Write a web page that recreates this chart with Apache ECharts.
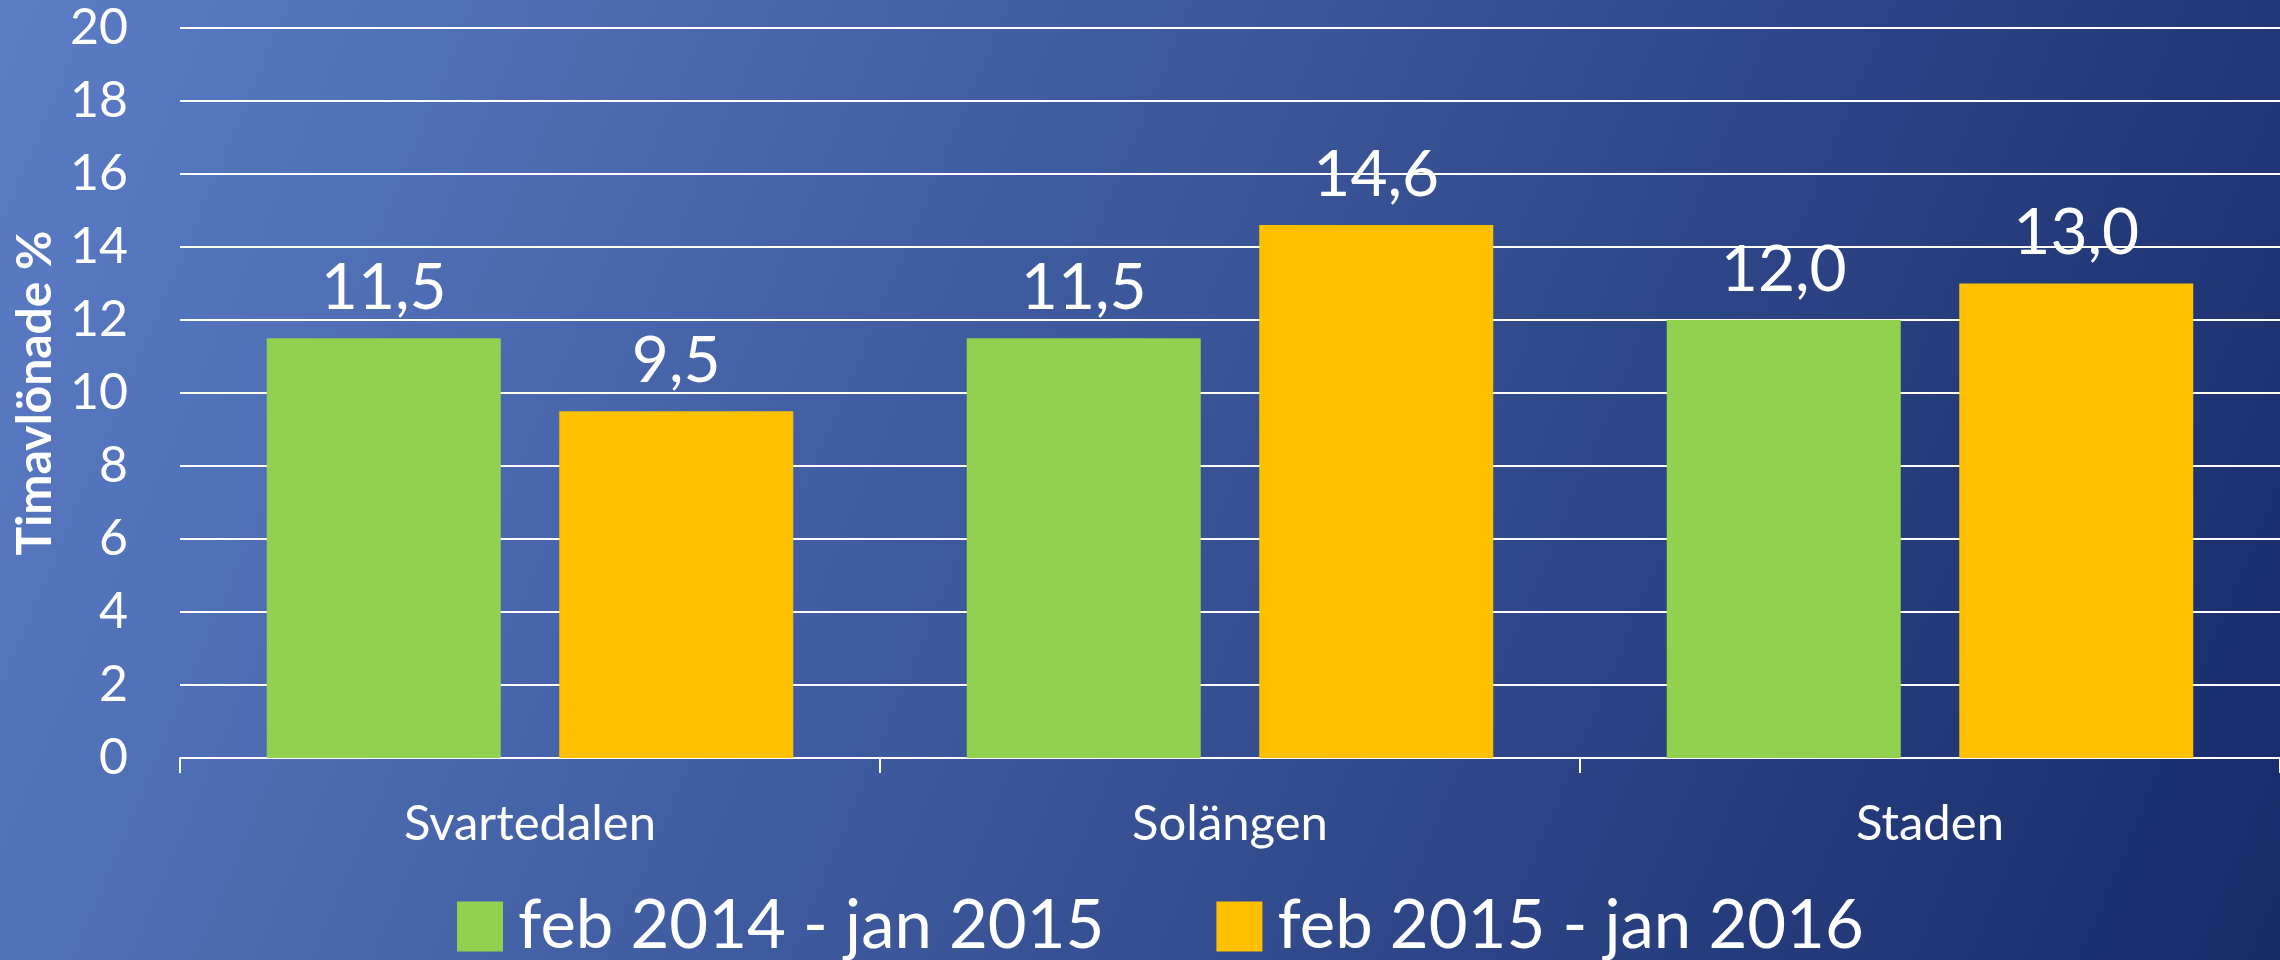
<!DOCTYPE html>
<html>
<head>
<meta charset="utf-8">
<title>Timavlönade</title>
<script src="https://cdn.jsdelivr.net/npm/echarts@6/dist/echarts.min.js"></script>
<style>
  html, body { margin: 0; padding: 0; }
  #main { width: 2280px; height: 960px; }
</style>
</head>
<body>
<div id="main"></div>
<script>
// data
const categories = ['Svartedalen', 'Solängen', 'Staden']
const seriesNames = ['feb 2014 - jan 2015', 'feb 2015 - jan 2016']
const values2014 = [11.5, 11.5, 12.0]
const values2015 = [9.5, 14.6, 13.0]
const yTicks = [0, 2, 4, 6, 8, 10, 12, 14, 16, 18, 20]

const font = 'Lato'

// 11.5 -> "11,5"
const fmt = (p) => p.value.toFixed(1).replace('.', ',')

const valueLabel = {
  show: true,
  position: 'top',
  distance: 18,
  color: '#fff',
  fontFamily: font,
  fontSize: 64,
  formatter: fmt,
}

var myChart = echarts.init(document.getElementById('main'))

let option = {
  animation: false,
  backgroundColor: {
    type: 'linear',
    x: 0, y: 0, x2: 1, y2: 1,
    colorStops: [
      { offset: 0, color: '#5b7dc6' },
      { offset: 0.5, color: '#3a5598' },
      { offset: 1, color: '#172b69' },
    ],
  },
  grid: {
    left: 180,
    top: 28,
    width: 2103,
    height: 730,
  },
  legend: {
    data: seriesNames,
    top: 888,
    left: 452,
    icon: 'rect',
    itemWidth: 46,
    itemHeight: 50,
    itemGap: 112,
    textStyle: {
      color: '#fff',
      fontFamily: font,
      fontSize: 67,
      padding: [0, 0, 0, 10],
    },
  },
  xAxis: {
    type: 'category',
    data: categories,
    axisLine: { lineStyle: { color: '#fff', width: 2 } },
    axisTick: { show: true, length: 15, lineStyle: { color: '#fff', width: 2 } },
    axisLabel: {
      color: '#fff',
      fontFamily: font,
      fontSize: 49,
      margin: 42,
    },
  },
  yAxis: {
    type: 'value',
    min: yTicks[0],
    max: yTicks[yTicks.length - 1],
    interval: 2,
    name: 'Timavlönade %',
    nameLocation: 'middle',
    nameGap: 117,
    nameTextStyle: {
      color: '#fff',
      fontFamily: font,
      fontWeight: 'bold',
      fontSize: 48,
    },
    axisLine: { show: false },
    axisTick: { show: false },
    axisLabel: {
      color: '#fff',
      fontFamily: font,
      fontSize: 50,
      margin: 52,
    },
    splitLine: { lineStyle: { color: '#fff', width: 2 } },
  },
  series: [
    {
      name: seriesNames[0],
      type: 'bar',
      data: values2014,
      barWidth: 234,
      barGap: '25%',
      itemStyle: { color: '#92d050' },
      label: valueLabel,
    },
    {
      name: seriesNames[1],
      type: 'bar',
      data: values2015,
      barWidth: 234,
      barGap: '25%',
      itemStyle: { color: '#ffc000' },
      label: valueLabel,
    },
  ],
}

myChart.setOption(option)
</script>
</body>
</html>
